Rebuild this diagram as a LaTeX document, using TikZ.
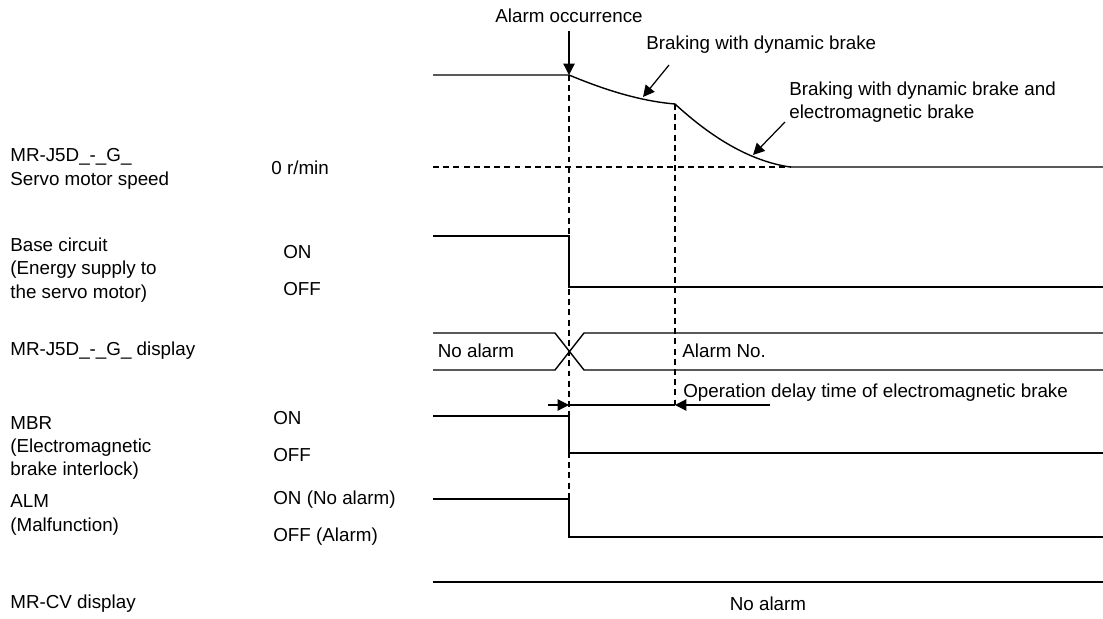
\documentclass[tikz,border=0pt]{standalone}
\usepackage{fontspec}
\setmainfont{Liberation Sans}
\usetikzlibrary{arrows.meta,positioning}

\begin{document}
\begin{tikzpicture}[x=0.02cm, y=-0.02cm, >={Triangle[length=6.5pt,width=6.5pt]}, font=\fontsize{10.7}{13.3}\selectfont]
\tikzstyle{sig}=[line width=0.8pt]
\tikzstyle{guide}=[line width=0.6pt, dash pattern=on 3.4pt off 2.4pt]
\tikzstyle{lbl}=[anchor=west, align=left, inner sep=0pt]
\tikzstyle{txt}=[inner sep=0pt]
\useasboundingbox (0,0) rectangle (1103,619);
% left column
\node[lbl] (speed) at (10,169) {MR-J5D\_-\_G\_\\Servo motor speed};
\node[lbl] (base) at (10,270) {Base circuit\\(Energy supply to\\the servo motor)};
\node[lbl] (disp) at (10,351) {MR-J5D\_-\_G\_ display};
\node[lbl] (mbr) at (10,448) {MBR\\(Electromagnetic\\brake interlock)};
\node[lbl] (alm) at (10,515) {ALM\\(Malfunction)};
\node[lbl] (cv) at (10,604) {MR-CV display};
\node[lbl] (zero) at (271,168) {0 r/min};
\node[lbl] (baseon) at (283,252) {ON};
\node[lbl] (baseoff) at (283,289) {OFF};
\node[lbl] (mbron) at (273,418) {ON};
\node[lbl] (mbroff) at (273,455) {OFF};
\node[lbl] (almon) at (273,500) {ON (No alarm)};
\node[lbl] (almoff) at (273,537) {OFF (Alarm)};
% guide lines
\draw[guide] (433,167) -- (790,167);
\draw[guide] (569,75) -- (569,499);
\draw[guide] (675,104) -- (675,405);
% servo motor speed
\coordinate (stop) at (569,75);
\coordinate (knee) at (675,104);
\coordinate (rest) at (790,167);
\draw[sig] (433,75) -- (stop) .. controls (605,90) and (640,101) .. (knee)
  .. controls (712,138) and (750,161) .. (rest) -- (1103,167);
% step signals
\foreach \hi/\lo in {236/287,416/453,499/537}{\draw[sig] (433,\hi) -- (569,\hi) -- (569,\lo) -- (1103,\lo);}
% display
\draw[sig] (433,333) -- (555,333) -- (584,370) -- (1103,370);
\draw[sig] (433,370) -- (555,370) -- (584,333) -- (1103,333);
\node[txt] (noalm) at (476,351) {No alarm};
\node[txt, anchor=west] (almno) at (682,351) {Alarm No.};
\draw[sig] (433,582) -- (1103,582);
\node[txt] (cvno) at (768,604) {No alarm};
% annotations
\node[txt] (occ) at (569,16) {Alarm occurrence};
\draw[->, line width=0.7pt] (occ.south |- 0,31) -- (stop);
\node[txt, anchor=west] (dyn) at (646,45) {Braking with dynamic brake};
\coordinate (dynhead) at (643,97);
\draw[->, line width=0.7pt] (669,65) -- (dynhead);
\node[lbl] (dynem) at (789,102) {Braking with dynamic brake and\\electromagnetic brake};
\coordinate (dynemhead) at (753,155);
\draw[->, line width=0.7pt] (785,122) -- (dynemhead);
% operation delay
\coordinate (dl) at (569,405);
\coordinate (dr) at (675,405);
\draw[->, line width=0.7pt] (548,405) -- (dl);
\draw[line width=0.7pt] (dl) -- (dr);
\draw[->, line width=0.7pt] (770,405) -- (dr);
\node[txt, anchor=west] (delay) at (683,393) {Operation delay time of electromagnetic brake};
\end{tikzpicture}
\end{document}
